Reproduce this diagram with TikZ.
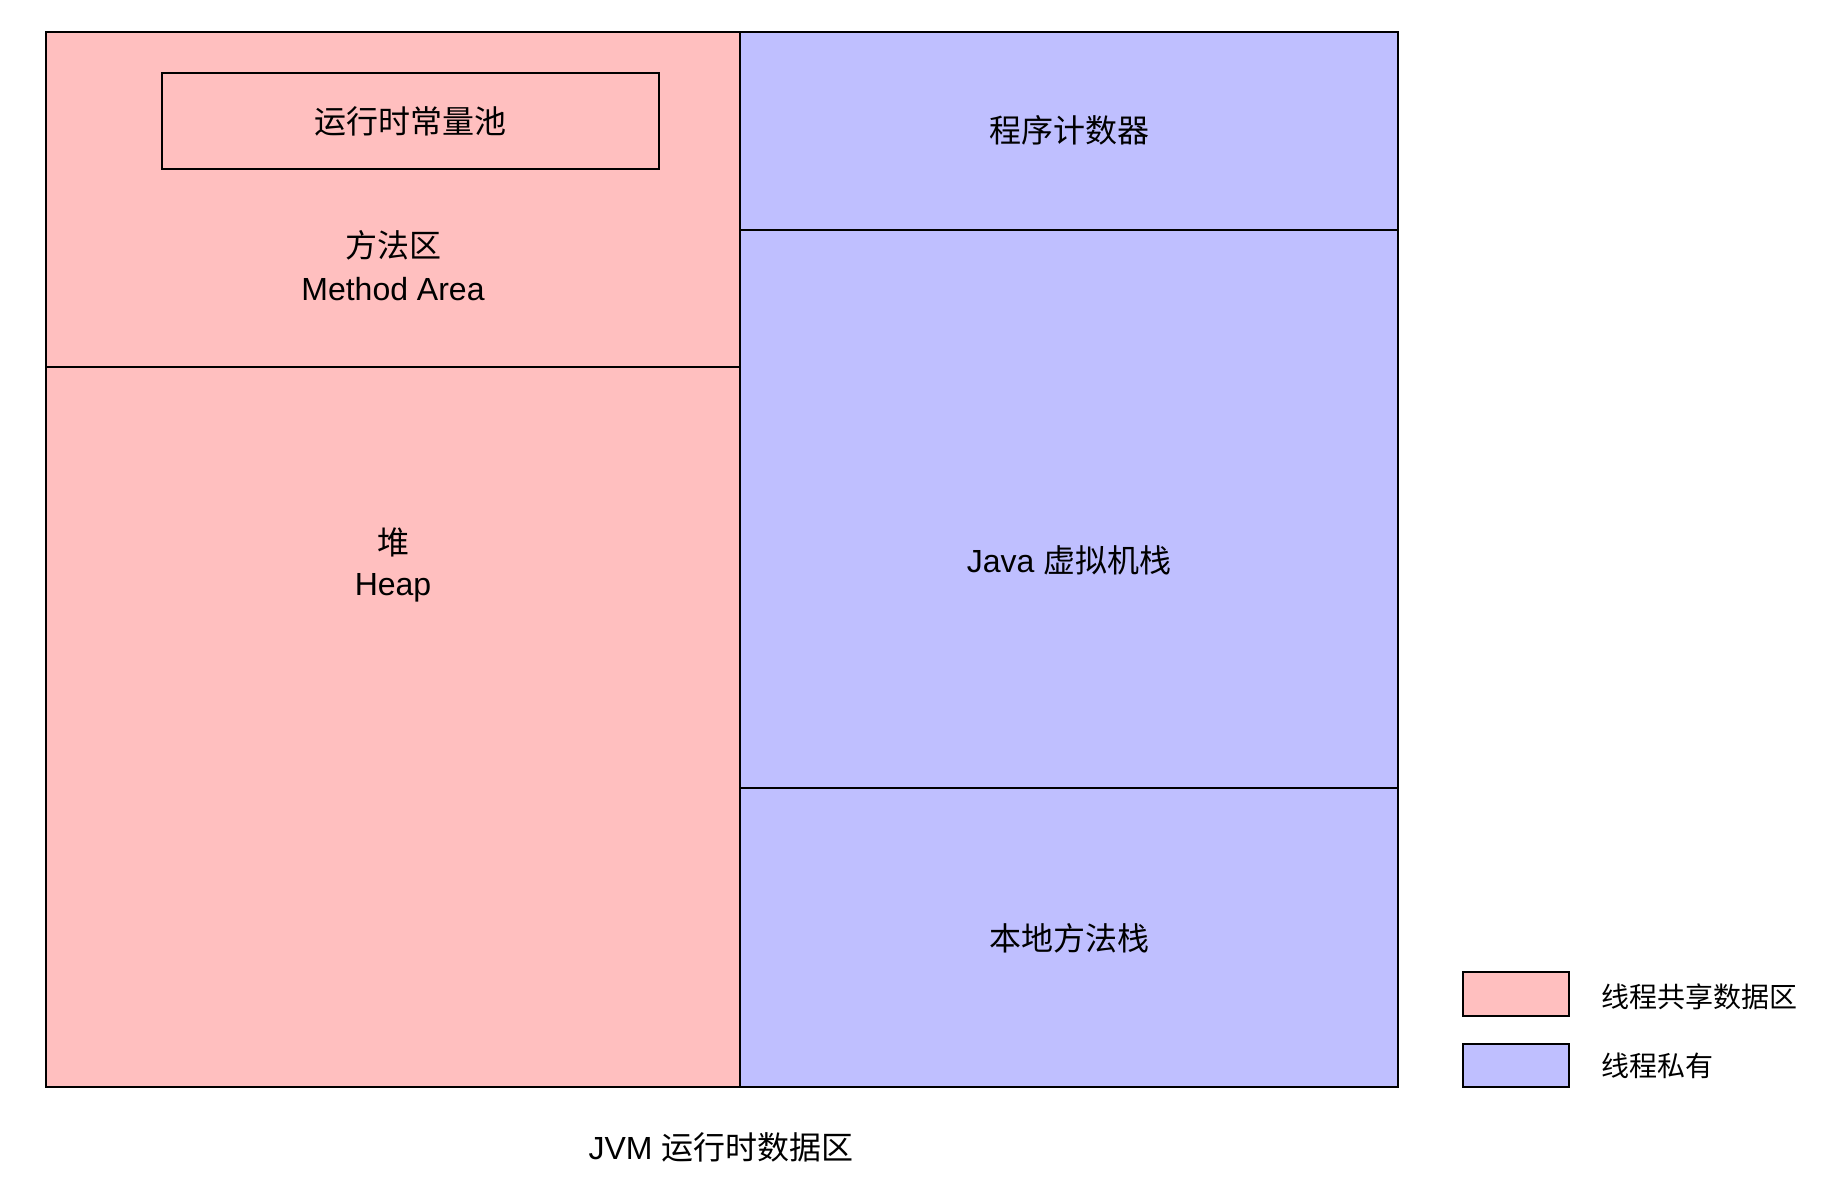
\documentclass[tikz,border=0pt]{standalone}
\usepackage{fontspec}
\setmainfont{Liberation Sans}
\newfontfamily\cjk{Noto Sans CJK SC}
\definecolor{sharedfill}{RGB}{255,191,191}
\definecolor{privatefill}{RGB}{191,191,255}
\begin{document}
\begin{tikzpicture}[x=0.5pt,y=-0.5pt,
  region/.style={draw=black,line width=1pt},
  lbl/.style={font=\fontsize{16}{21.5}\selectfont,align=center,inner sep=0pt},
  leg/.style={font=\fontsize{14}{17}\selectfont\cjk,anchor=west,inner sep=0pt}]
\useasboundingbox (0,0) rectangle (1842,1202);
% shared areas
\draw[region,fill=sharedfill] (45.8,31.7) rectangle (740,366.7);
\draw[region,fill=sharedfill] (45.8,366.7) rectangle (740,1086.7);
% private areas
\draw[region,fill=privatefill] (740,31.7) rectangle (1398,230);
\draw[region,fill=privatefill] (740,230) rectangle (1398,787.7);
\draw[region,fill=privatefill] (740,787.7) rectangle (1398,1086.7);
% runtime constant pool box
\draw[region] (162.2,72.7) rectangle (659,169);
% labels
\node[lbl] (pool) at (410.6,121.7) {\cjk 运行时常量池};
\node[lbl] (method) at (393,266) {{\cjk 方法区}\\Method Area};
\node[lbl,font=\fontsize{16}{20.5}\selectfont] (heap) at (393,565) {{\cjk 堆}\\Heap};
\node[lbl] (pc) at (1069,130) {\cjk 程序计数器};
\node[lbl] (stack) at (1069,560) {Java {\cjk 虚拟机栈}};
\node[lbl] (native) at (1069,938) {\cjk 本地方法栈};
\node[lbl] (title) at (721,1147) {JVM {\cjk 运行时数据区}};
% legend
\draw[region,fill=sharedfill] (1462.7,971.7) rectangle (1569,1015.7);
\draw[region,fill=privatefill] (1462.7,1043.7) rectangle (1569,1087.3);
\node[leg] (legshared) at (1601,996.7) {线程共享数据区};
\node[leg] (legprivate) at (1601,1066) {线程私有};
\end{tikzpicture}
\end{document}
